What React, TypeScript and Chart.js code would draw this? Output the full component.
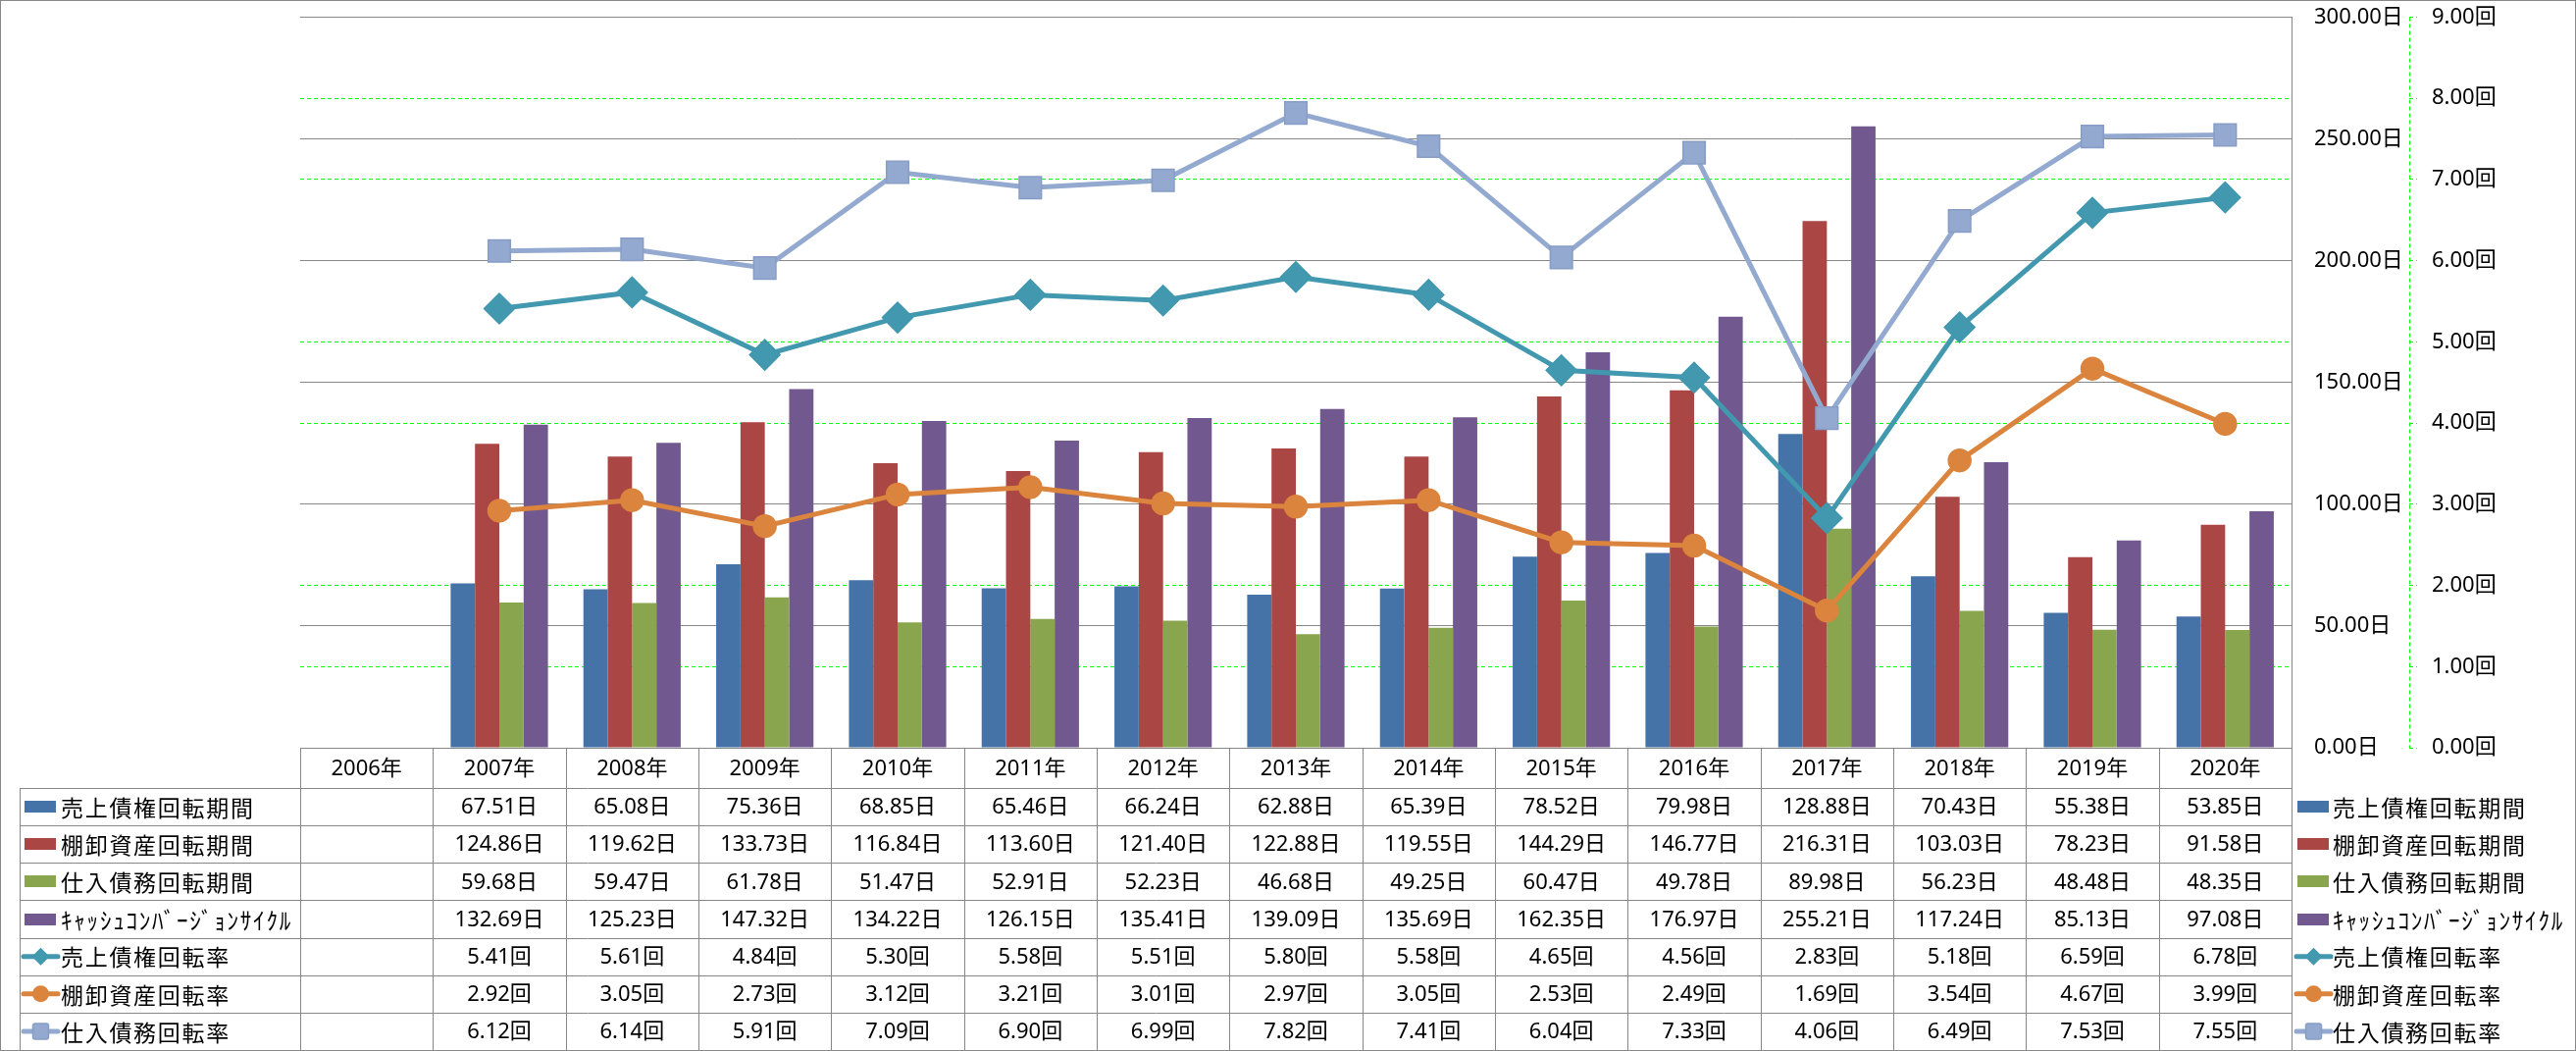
import React, { useEffect, useRef } from 'react';
import { Chart, registerables } from 'chart.js';

Chart.register(...registerables);

const categories = ['2006年', '2007年', '2008年', '2009年', '2010年', '2011年', '2012年', '2013年', '2014年', '2015年', '2016年', '2017年', '2018年', '2019年', '2020年'];

const receivableDays = [null, 67.51, 65.08, 75.36, 68.85, 65.46, 66.24, 62.88, 65.39, 78.52, 79.98, 128.88, 70.43, 55.38, 53.85];
const inventoryDays = [null, 124.86, 119.62, 133.73, 116.84, 113.6, 121.4, 122.88, 119.55, 144.29, 146.77, 216.31, 103.03, 78.23, 91.58];
const payableDays = [null, 59.68, 59.47, 61.78, 51.47, 52.91, 52.23, 46.68, 49.25, 60.47, 49.78, 89.98, 56.23, 48.48, 48.35];
const cccDays = [null, 132.69, 125.23, 147.32, 134.22, 126.15, 135.41, 139.09, 135.69, 162.35, 176.97, 255.21, 117.24, 85.13, 97.08];
const receivableTurnover = [null, 5.41, 5.61, 4.84, 5.3, 5.58, 5.51, 5.8, 5.58, 4.65, 4.56, 2.83, 5.18, 6.59, 6.78];
const inventoryTurnover = [null, 2.92, 3.05, 2.73, 3.12, 3.21, 3.01, 2.97, 3.05, 2.53, 2.49, 1.69, 3.54, 4.67, 3.99];
const payableTurnover = [null, 6.12, 6.14, 5.91, 7.09, 6.9, 6.99, 7.82, 7.41, 6.04, 7.33, 4.06, 6.49, 7.53, 7.55];

const seriesNames = ['売上債権回転期間', '棚卸資産回転期間', '仕入債務回転期間', 'ｷｬｯｼｭｺﾝﾊﾞｰｼﾞｮﾝｻｲｸﾙ', '売上債権回転率', '棚卸資産回転率', '仕入債務回転率'];

const dayAxis = { min: 0, max: 300, step: 50 };
const timesAxis = { min: 0, max: 9, step: 1 };

const C_BLUE = '#4572A7';
const C_RED = '#AA4643';
const C_GREEN = '#89A54E';
const C_PURPLE = '#71588F';
const C_TEAL = '#4198AF';
const C_ORANGE = '#DB843D';
const C_LBLUE = '#93A9CF';
const C_LBLUE_EDGE = '#879DC6';
const GRID_GRAY = '#878787';
const LIME = '#00FF00';

const NUM_FONT = "'Noto Sans', 'Noto Sans CJK JP', sans-serif";
const CJK_FONT = "'Noto Sans CJK JP', 'Noto Sans', sans-serif";

type RowDef = {
  label: string;
  values: (number | null)[];
  unit: string;
  kind: 'bar' | 'diamond' | 'circle' | 'square';
  color: string;
  labelWidth?: number;
};

const rows: RowDef[] = [
  { label: seriesNames[0], values: receivableDays, unit: '日', kind: 'bar', color: C_BLUE },
  { label: seriesNames[1], values: inventoryDays, unit: '日', kind: 'bar', color: C_RED },
  { label: seriesNames[2], values: payableDays, unit: '日', kind: 'bar', color: C_GREEN },
  { label: seriesNames[3], values: cccDays, unit: '日', kind: 'bar', color: C_PURPLE, labelWidth: 236 },
  { label: seriesNames[4], values: receivableTurnover, unit: '回', kind: 'diamond', color: C_TEAL },
  { label: seriesNames[5], values: inventoryTurnover, unit: '回', kind: 'circle', color: C_ORANGE },
  { label: seriesNames[6], values: payableTurnover, unit: '回', kind: 'square', color: C_LBLUE },
];

function drawMarker(ctx: CanvasRenderingContext2D, kind: string, x: number, y: number, color: string) {
  ctx.save();
  ctx.fillStyle = color;
  ctx.strokeStyle = color;
  ctx.beginPath();
  if (kind === 'diamond') {
    const r = 9;
    ctx.moveTo(x - r, y);
    ctx.lineTo(x, y - r);
    ctx.lineTo(x + r, y);
    ctx.lineTo(x, y + r);
    ctx.closePath();
    ctx.fill();
  } else if (kind === 'circle') {
    ctx.arc(x, y, 8.5, 0, Math.PI * 2);
    ctx.fill();
  } else if (kind === 'square') {
    const h = 8;
    const rr = 2.5;
    ctx.moveTo(x - h + rr, y - h);
    ctx.arcTo(x + h, y - h, x + h, y + h, rr);
    ctx.arcTo(x + h, y + h, x - h, y + h, rr);
    ctx.arcTo(x - h, y + h, x - h, y - h, rr);
    ctx.arcTo(x - h, y - h, x + h, y - h, rr);
    ctx.closePath();
    ctx.fill();
    ctx.strokeStyle = C_LBLUE_EDGE;
    ctx.lineWidth = 1.5;
    ctx.stroke();
  }
  ctx.restore();
}

function drawKey(ctx: CanvasRenderingContext2D, row: RowDef, x0: number, yc: number) {
  if (row.kind === 'bar') {
    ctx.fillStyle = row.color;
    ctx.fillRect(x0 + 2, Math.round(yc - 6), 32, 12);
  } else {
    ctx.save();
    ctx.strokeStyle = row.color;
    ctx.lineWidth = 5;
    ctx.lineCap = 'round';
    ctx.beginPath();
    ctx.moveTo(x0 + 1, yc);
    ctx.lineTo(x0 + 36, yc);
    ctx.stroke();
    ctx.restore();
    drawMarker(ctx, row.kind, x0 + 18.5, yc, row.color);
  }
}

function drawLabel(ctx: CanvasRenderingContext2D, row: RowDef, x: number, y: number) {
  ctx.save();
  ctx.font = `23px ${CJK_FONT}`;
  (ctx as any).letterSpacing = '1.7px';
  ctx.fillStyle = '#000';
  ctx.textAlign = 'left';
  ctx.textBaseline = 'middle';
  if (row.labelWidth) {
    const w = ctx.measureText(row.label).width;
    ctx.translate(x, y);
    ctx.scale(row.labelWidth / w, 1.05);
    ctx.fillText(row.label, 0, 0);
  } else {
    ctx.fillText(row.label, x, y);
  }
  ctx.restore();
}

const tablePlugin = {
  id: 'dataTable',
  afterDraw(chart: any) {
    const ctx: CanvasRenderingContext2D = chart.ctx;
    const a = chart.chartArea;
    const xs = chart.scales.x;
    const y1 = chart.scales.y1;
    const n = categories.length;
    const colW = (a.right - a.left) / n;
    const tTop = a.bottom;
    const headH = 41;
    const tBottom = chart.height - 1;
    const rowsTop = tTop + headH;
    const rowH = (tBottom - rowsTop) / rows.length;
    const tLeft = 20;
    const px = (v: number) => Math.round(v) + 0.5;

    ctx.save();
    ctx.strokeStyle = LIME;
    ctx.lineWidth = 1;
    ctx.setLineDash([4, 3]);
    ctx.beginPath();
    ctx.moveTo(px(y1.left), a.top);
    ctx.lineTo(px(y1.left), a.bottom);
    ctx.stroke();
    ctx.setLineDash([]);

    ctx.strokeStyle = GRID_GRAY;
    ctx.lineWidth = 1;
    ctx.strokeRect(0.5, 0.5, chart.width - 1, chart.height - 1);

    ctx.beginPath();
    ctx.moveTo(px(a.left), px(tTop));
    ctx.lineTo(px(a.right), px(tTop));
    for (let r = 0; r <= rows.length; r++) {
      const y = px(rowsTop + r * rowH);
      ctx.moveTo(px(tLeft), y);
      ctx.lineTo(px(a.right), y);
    }
    for (let i = 0; i <= n; i++) {
      const x = px(a.left + i * colW);
      ctx.moveTo(x, tTop);
      ctx.lineTo(x, tBottom);
    }
    ctx.moveTo(px(tLeft), rowsTop);
    ctx.lineTo(px(tLeft), tBottom);
    ctx.stroke();

    ctx.fillStyle = '#000';
    ctx.font = `22px ${NUM_FONT}`;
    ctx.textAlign = 'center';
    ctx.textBaseline = 'middle';
    for (let i = 0; i < n; i++) {
      ctx.fillText(categories[i], xs.getPixelForValue(i), tTop + headH / 2 + 1);
    }

    rows.forEach((row, r) => {
      const yc = rowsTop + r * rowH + rowH / 2;
      ctx.font = `22px ${NUM_FONT}`;
      ctx.textAlign = 'center';
      ctx.textBaseline = 'middle';
      ctx.fillStyle = '#000';
      row.values.forEach((v, i) => {
        if (v === null || v === undefined) return;
        ctx.fillText(v.toFixed(2) + row.unit, xs.getPixelForValue(i), yc + 1);
      });
      drawKey(ctx, row, 23, yc);
      drawLabel(ctx, row, 62, yc + 1);
      drawKey(ctx, row, a.right + 4, yc);
      drawLabel(ctx, row, a.right + 42, yc + 1);
    });
    ctx.restore();
  },
};

export default function App() {
  const ref = useRef<HTMLCanvasElement | null>(null);

  useEffect(() => {
    document.body.style.margin = '0';
    const canvas = ref.current;
    if (!canvas) return;

    const barDs = (label: string, data: (number | null)[], color: string) => ({
      type: 'bar' as const,
      label,
      data,
      backgroundColor: color,
      borderWidth: 0,
      yAxisID: 'y',
      order: 2,
      categoryPercentage: 0.733,
      barPercentage: 1.0,
    });

    const lineDs = (label: string, data: (number | null)[], color: string, style: string, radius: number, edge: string) => ({
      type: 'line' as const,
      label,
      data,
      borderColor: color,
      backgroundColor: color,
      borderWidth: 5,
      tension: 0,
      pointStyle: style,
      pointRadius: radius,
      pointHoverRadius: radius,
      pointBackgroundColor: color,
      pointBorderColor: edge,
      pointBorderWidth: 1.5,
      yAxisID: 'y1',
      order: 1,
      spanGaps: false,
    });

    const noPad = (w: number) => (s: any) => {
      s.width = w;
      s.paddingTop = 0;
      s.paddingBottom = 0;
    };

    const chart = new Chart(canvas, {
      type: 'bar',
      data: {
        labels: categories,
        datasets: [
          barDs(seriesNames[0], receivableDays, C_BLUE),
          barDs(seriesNames[1], inventoryDays, C_RED),
          barDs(seriesNames[2], payableDays, C_GREEN),
          barDs(seriesNames[3], cccDays, C_PURPLE),
          lineDs(seriesNames[4], receivableTurnover, C_TEAL, 'rectRot', 15.5, C_TEAL),
          lineDs(seriesNames[5], inventoryTurnover, C_ORANGE, 'circle', 11.5, C_ORANGE),
          lineDs(seriesNames[6], payableTurnover, C_LBLUE, 'rect', 16, C_LBLUE_EDGE),
        ] as any,
      },
      options: {
        responsive: false,
        animation: false,
        devicePixelRatio: 1,
        layout: { padding: { left: 306, top: 16, right: 0, bottom: 309 } },
        plugins: {
          legend: { display: false },
          tooltip: { enabled: false },
          title: { display: false },
        },
        scales: {
          x: { type: 'category', display: false, offset: true },
          y1: {
            type: 'linear',
            position: 'right',
            weight: 1,
            min: timesAxis.min,
            max: timesAxis.max,
            afterFit: noPad(170),
            ticks: {
              stepSize: timesAxis.step,
              padding: 15,
              color: '#000',
              font: { family: NUM_FONT, size: 22 },
              callback: (v: any) => Number(v).toFixed(2) + '回',
            },
            grid: {
              color: LIME,
              lineWidth: 1,
              drawTicks: true,
              tickLength: 8,
              tickBorderDash: [4, 3],
            },
            border: { display: false, dash: [4, 3] },
          },
          y: {
            type: 'linear',
            position: 'right',
            weight: 0,
            min: dayAxis.min,
            max: dayAxis.max,
            afterFit: noPad(120),
            ticks: {
              stepSize: dayAxis.step,
              padding: 23,
              color: '#000',
              font: { family: NUM_FONT, size: 22 },
              callback: (v: any) => Number(v).toFixed(2) + '日',
            },
            grid: {
              color: GRID_GRAY,
              lineWidth: 1,
              drawTicks: false,
            },
            border: { display: true, color: GRID_GRAY, width: 1 },
          },
        },
      } as any,
      plugins: [tablePlugin],
    });

    return () => chart.destroy();
  }, []);

  return (
    <canvas
      ref={ref}
      width={2626}
      height={1071}
      style={{ display: 'block', width: '2626px', height: '1071px' }}
    />
  );
}
